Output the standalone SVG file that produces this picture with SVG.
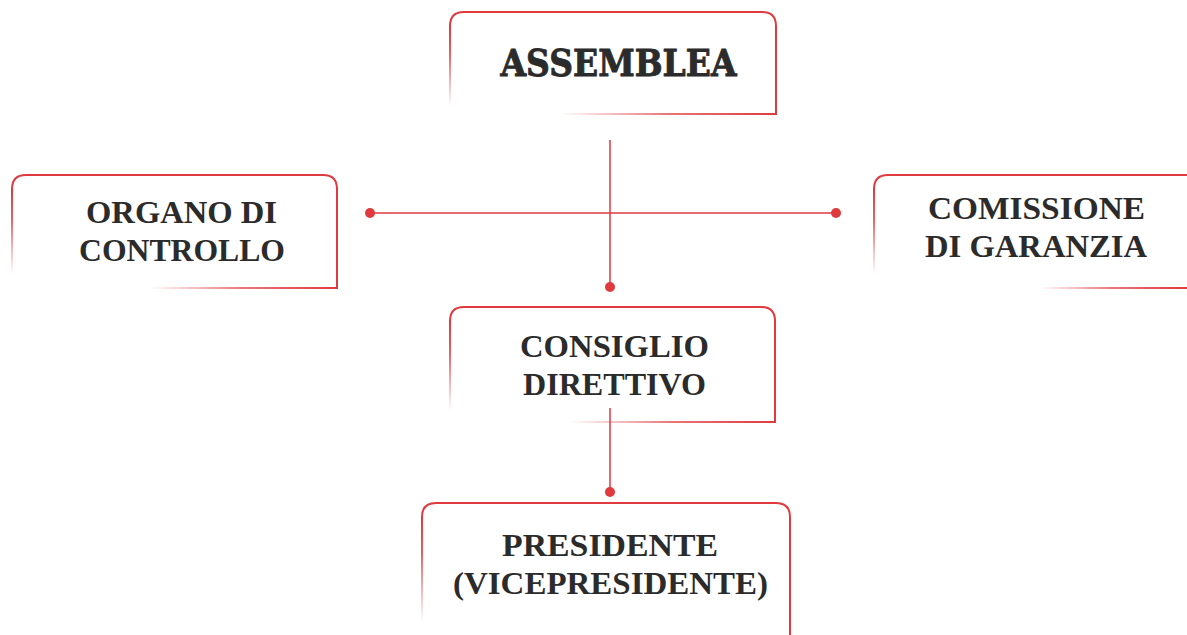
<svg xmlns="http://www.w3.org/2000/svg" width="1187" height="635" viewBox="0 0 1187 635">
<defs>
<linearGradient id="gv" x1="0" y1="0" x2="0" y2="1"><stop offset="0" stop-color="#e0393e"/><stop offset="0.35" stop-color="#e0393e" stop-opacity="0.8"/><stop offset="1" stop-color="#e0393e" stop-opacity="0"/></linearGradient>
<linearGradient id="gh" x1="0" y1="0" x2="1" y2="0"><stop offset="0" stop-color="#e0393e" stop-opacity="0"/><stop offset="0.5" stop-color="#e0393e" stop-opacity="0.7"/><stop offset="1" stop-color="#e0393e"/></linearGradient>
<style>
.edge{fill:none;stroke:#e0393e;stroke-width:2}
.conn{stroke:#e0393e;stroke-width:1.5;fill:none}
.dot{fill:#e0393e}
.t{font-family:"Liberation Serif",serif;font-weight:bold;font-size:32px;fill:#2b2b2b;text-anchor:middle}
.big{font-family:"DejaVu Serif",serif;font-weight:bold;font-size:37px;fill:#2b2b2b;stroke:#2b2b2b;stroke-width:0.9;text-anchor:middle}
</style>
</defs>
<rect width="1187" height="635" fill="#ffffff"/>
<g id="connectors">
<line class="conn" x1="610" y1="140" x2="610" y2="287"/>
<line class="conn" x1="370" y1="213" x2="836" y2="213"/>
<line class="conn" x1="610" y1="408" x2="610" y2="492"/>
<circle class="dot" cx="610" cy="287" r="5"/>
<circle class="dot" cx="370" cy="213" r="5"/>
<circle class="dot" cx="836" cy="213" r="5"/>
<circle class="dot" cx="610" cy="492" r="5"/>
</g>
<g id="assemblea">
<path class="edge" d="M450,26 Q450,12 464,12 L762,12 Q776,12 776,26 L776,114"/>
<rect x="449" y="26" width="2" height="80" fill="url(#gv)"/>
<rect x="560" y="113" width="217" height="2" fill="url(#gh)"/>
<text class="big" x="618.5" y="76" textLength="236" lengthAdjust="spacingAndGlyphs">ASSEMBLEA</text>
</g>
<g id="organo">
<path class="edge" d="M12,189 Q12,175 26,175 L323,175 Q337,175 337,189 L337,288"/>
<rect x="11" y="189" width="2" height="85" fill="url(#gv)"/>
<rect x="150" y="287" width="188" height="2" fill="url(#gh)"/>
<text class="t" x="181.5" y="223" textLength="191" lengthAdjust="spacingAndGlyphs">ORGANO DI</text>
<text class="t" x="182" y="261" textLength="206" lengthAdjust="spacingAndGlyphs">CONTROLLO</text>
</g>
<g id="commissione">
<path class="edge" d="M874,189 Q874,175 888,175 L1187,175"/>
<rect x="873" y="189" width="2" height="85" fill="url(#gv)"/>
<rect x="1040" y="287" width="147" height="2" fill="url(#gh)"/>
<text class="t" x="1036.5" y="219" textLength="217" lengthAdjust="spacingAndGlyphs">COMISSIONE</text>
<text class="t" x="1036" y="257" textLength="222" lengthAdjust="spacingAndGlyphs">DI GARANZIA</text>
</g>
<g id="consiglio">
<path class="edge" d="M450,321 Q450,307 464,307 L761,307 Q775,307 775,321 L775,422"/>
<rect x="449" y="321" width="2" height="90" fill="url(#gv)"/>
<rect x="570" y="421" width="206" height="2" fill="url(#gh)"/>
<text class="t" x="614.5" y="357" textLength="189" lengthAdjust="spacingAndGlyphs">CONSIGLIO</text>
<text class="t" x="614.5" y="395" textLength="183" lengthAdjust="spacingAndGlyphs">DIRETTIVO</text>
</g>
<g id="presidente">
<path class="edge" d="M422,517 Q422,503 436,503 L776,503 Q790,503 790,517 L790,635"/>
<rect x="421" y="517" width="2" height="105" fill="url(#gv)"/>
<text class="t" x="610" y="556" textLength="216" lengthAdjust="spacingAndGlyphs">PRESIDENTE</text>
<text class="t" x="610.5" y="594" textLength="315" lengthAdjust="spacingAndGlyphs">(VICEPRESIDENTE)</text>
</g>
</svg>
